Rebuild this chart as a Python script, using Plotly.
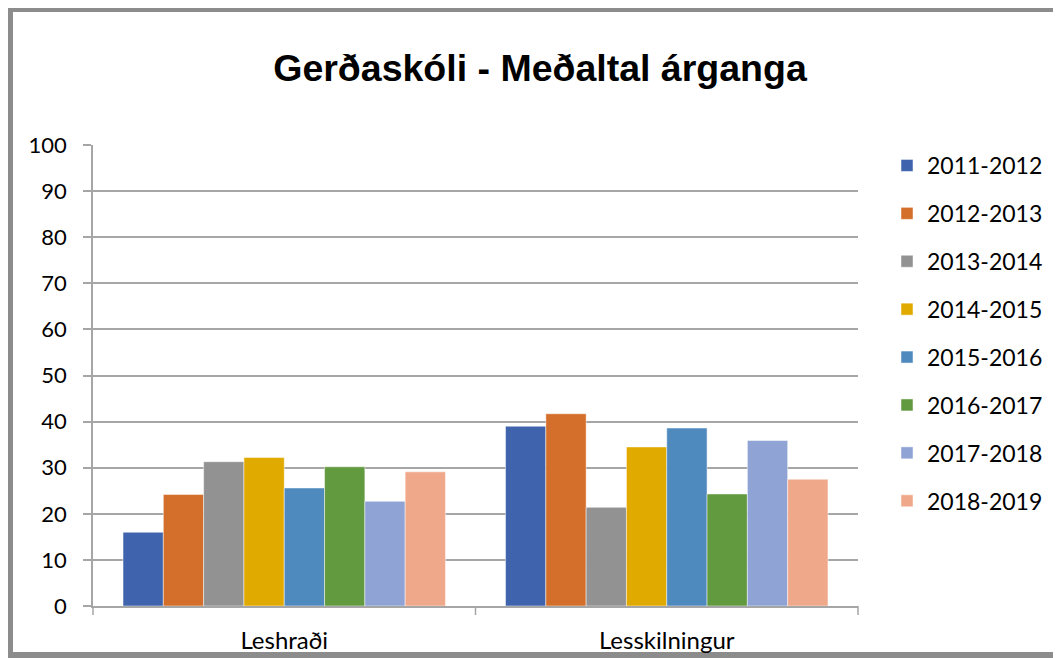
import plotly.graph_objects as go

categories = ["Leshraði", "Lesskilningur"]
series_names = ["2011-2012", "2012-2013", "2013-2014", "2014-2015",
                "2015-2016", "2016-2017", "2017-2018", "2018-2019"]
values_2011_2012 = [16.0, 39.0]
values_2012_2013 = [24.2, 41.7]
values_2013_2014 = [31.3, 21.4]
values_2014_2015 = [32.2, 34.5]
values_2015_2016 = [25.6, 38.6]
values_2016_2017 = [30.2, 24.3]
values_2017_2018 = [22.7, 35.9]
values_2018_2019 = [29.1, 27.5]
series_values = [values_2011_2012, values_2012_2013, values_2013_2014, values_2014_2015,
                 values_2015_2016, values_2016_2017, values_2017_2018, values_2018_2019]
colors = ["#3f64ad", "#d46e2b", "#929292", "#e1aa00",
          "#4f8abe", "#629a40", "#8fa3d4", "#f0a88a"]
y_ticks = [0, 10, 20, 30, 40, 50, 60, 70, 80, 90, 100]

font_body = "Lato, 'Open Sans', sans-serif"

fig = go.Figure()
for name, vals, col in zip(series_names, series_values, colors):
    fig.add_trace(go.Bar(
        x=categories, y=vals, name=name, legendgroup=name,
        marker=dict(color=col, line=dict(color="rgba(255,255,255,0.6)", width=0.8)),
    ))

# page body adds an 8px offset; lay out in screen pixels minus that offset
OFF = 8
W, H = 1061 - OFF, 658 - OFF
L, R, T, B = 93 - OFF, 858 - OFF, 145 - OFF, 606 - OFF

def sx(p):  # screen x -> paper
    return (p - OFF - L) / (R - L)

def sy(p):  # screen y -> paper
    return (B - (p - OFF)) / (B - T)

fig.update_layout(
    width=W, height=H,
    margin=dict(l=L, r=W - R, t=T, b=H - B, pad=0, autoexpand=False),
    paper_bgcolor="white", plot_bgcolor="white",
    barmode="group", bargap=0.157, bargroupgap=0,
    title=dict(text="<b>Gerðaskóli - Meðaltal árganga</b>",
               font=dict(family="'Liberation Sans', Arial, sans-serif", size=37.5, color="black"),
               x=(540 - OFF) / W, xanchor="center", y=1 - (68 - OFF) / H, yanchor="middle"),
    font=dict(family=font_body, color="black"),
    showlegend=True,
    legend=dict(xref="container", yref="container", x=(887 - OFF) / W, xanchor="left",
                y=1 - (144 - OFF) / H, yanchor="top",
                font=dict(family=font_body, size=23, color="black"),
                tracegroupgap=15, bgcolor="rgba(0,0,0,0)", itemwidth=30, maxheight=600),
    xaxis=dict(showline=True, linecolor="#a6a6a6", linewidth=1.5,
               ticks="", tickfont=dict(family=font_body, size=24, color="black"),
               showgrid=False, ticklabelstandoff=12),
    yaxis=dict(range=[0, 100], tickvals=y_ticks, showline=True, linecolor="#a6a6a6",
               linewidth=1.5, ticks="outside", ticklen=8, tickcolor="#a6a6a6", tickwidth=1.5,
               showgrid=True, gridcolor="#a6a6a6", gridwidth=1.5, zeroline=False,
               tickfont=dict(family=font_body, size=22, color="black"), ticklabelstandoff=12),
)

# category separator tick marks on x axis
for xp in [0, 0.5, 1.0]:
    fig.add_shape(type="line", xref="paper", yref="paper",
                  x0=xp, x1=xp, y0=0, y1=-9 / (B - T),
                  line=dict(color="#a6a6a6", width=1.5))

# outer chart frame
fig.add_shape(type="rect", xref="paper", yref="paper",
              x0=sx(10), x1=sx(1075), y0=sy(655), y1=sy(9),
              line=dict(color="#8c8c8c", width=6), fillcolor="rgba(0,0,0,0)", layer="below")

fig.write_html("out.html")
